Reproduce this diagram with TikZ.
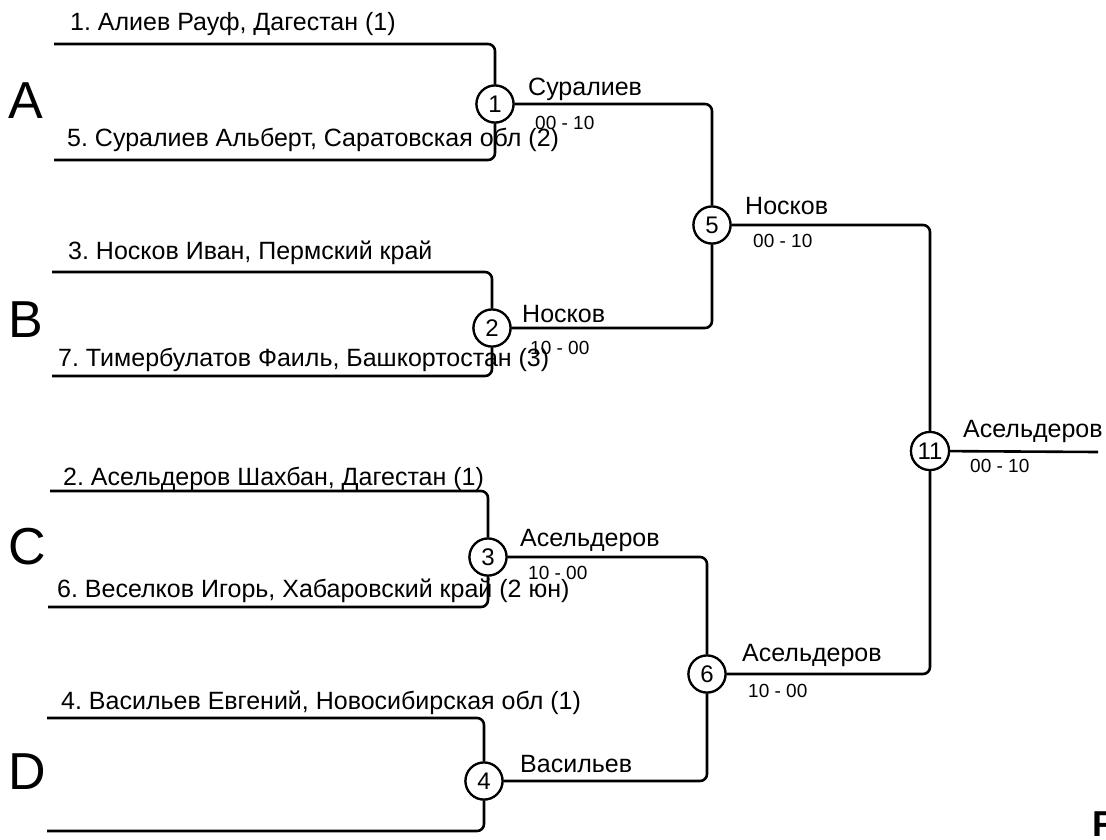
\documentclass[tikz,border=0pt]{standalone}
\usepackage{fontspec}
\setmainfont{Liberation Sans}
\begin{document}
\frenchspacing
\begin{tikzpicture}[x=1pt,y=-1pt,
  wire/.style={line width=2.6pt,rounded corners=7pt},
  bout/.style={circle,draw,line width=2.2pt,minimum size=37pt,inner sep=0pt,fill=white,font=\fontsize{24}{26}\selectfont},
  player/.style={anchor=base west,inner sep=0pt,font=\fontsize{25}{28}\selectfont},
  winner/.style={anchor=base west,inner sep=0pt,font=\fontsize{25}{28}\selectfont},
  score/.style={anchor=base west,inner sep=0pt,font=\fontsize{19}{22}\selectfont},
  group/.style={anchor=base west,inner sep=0pt,font=\fontsize{52}{56}\selectfont}]
\useasboundingbox (0,0) rectangle (1106,839);
\fill[white] (0,0) rectangle (1106,839);

% bout circles
\node[bout] (m1) at (495,104) {1};
\node[bout] (m2) at (492,328) {2};
\node[bout] (m3) at (488,557) {3};
\node[bout] (m4) at (484,781) {4};
\node[bout] (m5) at (712,225) {5};
\node[bout] (m6) at (707,674) {6};
\node[bout,minimum size=38pt] (m11) at (930,451) {11};

% bracket ends
\coordinate (a1) at (54,44);
\coordinate (a2) at (54,160);
\coordinate (b1) at (52,272);
\coordinate (b2) at (52,376);
\coordinate (c1) at (50,491);
\coordinate (c2) at (48,607);
\coordinate (d1) at (47,718);
\coordinate (d2) at (47,831);
\coordinate (fin) at (1098,452);

% connectors
\draw[wire] (a1) -| (m1);
\draw[wire] (a2) -| (m1);
\draw[wire] (b1) -| (m2);
\draw[wire] (b2) -| (m2);
\draw[wire] (c1) -| (m3);
\draw[wire] (c2) -| (m3);
\draw[wire] (d1) -| (m4);
\draw[wire] (d2) -| (m4);
\draw[wire] (m1) -| (m5);
\draw[wire] (m2) -| (m5);
\draw[wire] (m3) -| (m6);
\draw[wire] (m4) -| (m6);
\draw[wire] (m5) -| (m11);
\draw[wire] (m6) -| (m11);
\draw[wire] (m11) -- (fin);

% redraw circles over the wires
\foreach \m/\t in {m1/1,m2/2,m3/3,m4/4,m5/5,m6/6}
  \node[bout] at (\m) {\t};
\node[bout,minimum size=38pt] at (m11) {11};

% group letters
\node[group] (gA) at (8,118) {A};
\node[group] (gB) at (8,337) {B};
\node[group] (gC) at (8,564) {C};
\node[group] (gD) at (8,789) {D};

% players
\node[player] (p1) at (70,30) {1. Алиев Рауф, Дагестан (1)};
\node[player] (p5) at (67,146) {5. Суралиев Альберт, Саратовская обл (2)};
\node[player] (p3) at (68,259) {3. Носков Иван, Пермский край};
\node[player] (p7) at (58,366) {7. Тимербулатов Фаиль, Башкортостан (3)};
\node[player] (p2) at (63,485) {2. Асельдеров Шахбан, Дагестан (1)};
\node[player] (p6) at (57,597) {6. Веселков Игорь, Хабаровский край (2 юн)};
\node[player] (p4) at (61,709) {4. Васильев Евгений, Новосибирская обл (1)};

% winners
\node[winner] (w1) at (528,95) {Суралиев};
\node[winner] (w2) at (522,322) {Носков};
\node[winner] (w3) at (520,546) {Асельдеров};
\node[winner] (w4) at (520,772) {Васильев};
\node[winner] (w5) at (745,214) {Носков};
\node[winner] (w6) at (742,661) {Асельдеров};
\node[winner] (w11) at (963,437) {Асельдеров};

% scores
\node[score] (s1) at (535,129) {00 - 10};
\node[score] (s2) at (530,354) {10 - 00};
\node[score] (s3) at (528,579) {10 - 00};
\node[score] (s5) at (753,247) {00 - 10};
\node[score] (s6) at (748,697) {10 - 00};
\node[score] (s11) at (970,472) {00 - 10};

% cut-off letter
\node[anchor=base west,inner sep=0pt,font=\fontsize{36}{38}\selectfont\bfseries] (cut) at (1092,836) {F};
\end{tikzpicture}
\end{document}
